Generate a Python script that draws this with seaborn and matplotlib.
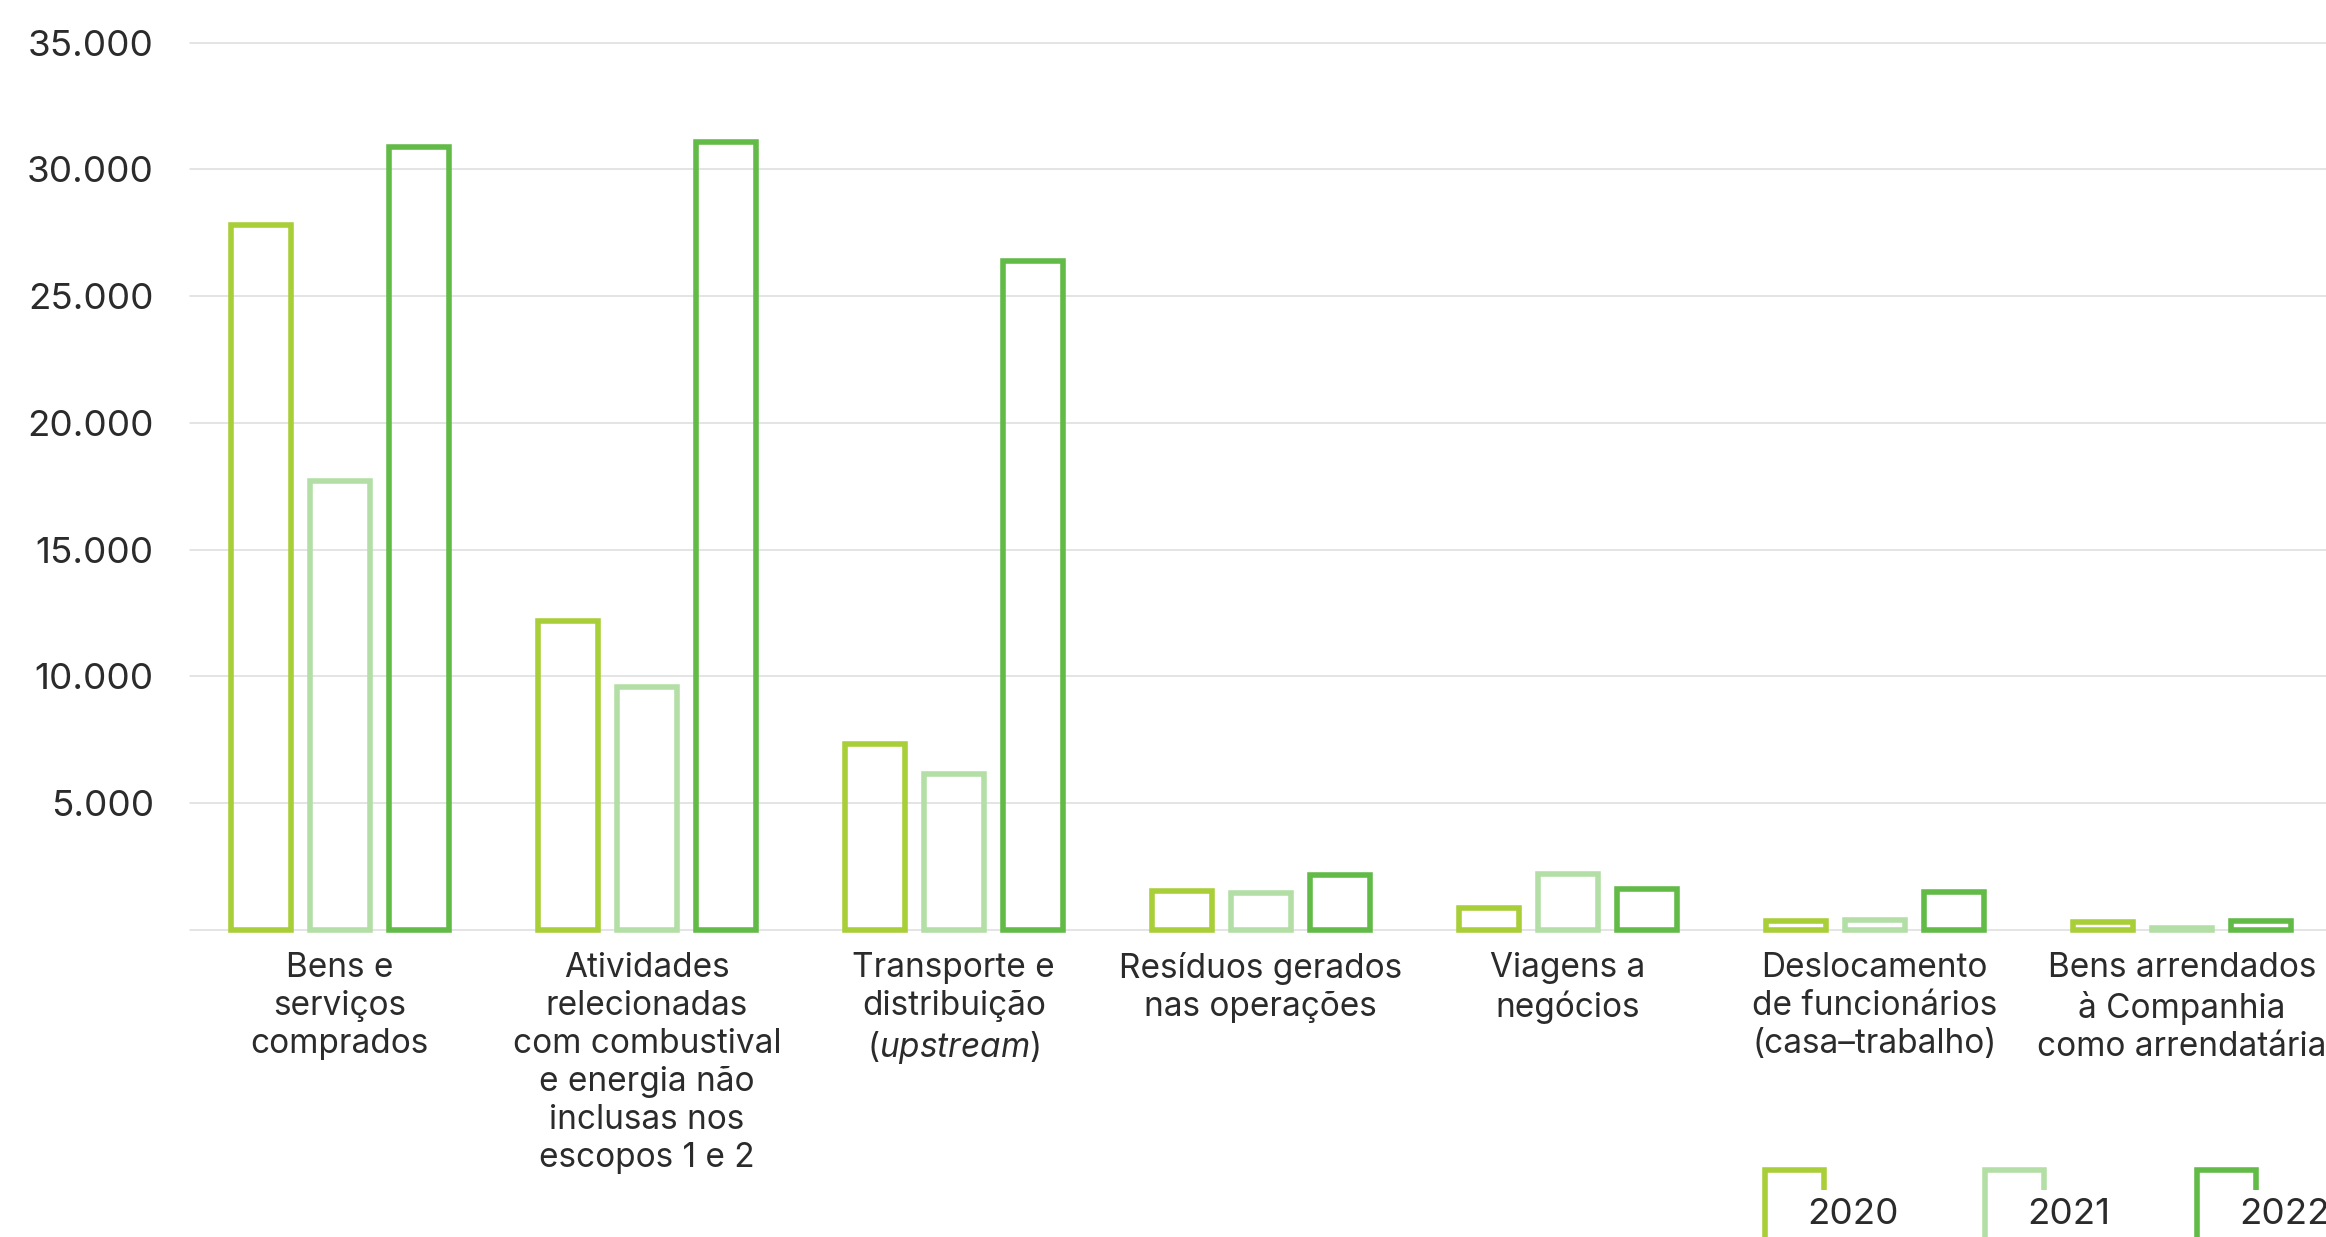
import numpy as np
import pandas as pd
import matplotlib
matplotlib.use("Agg")
import matplotlib.pyplot as plt
import seaborn as sns
from matplotlib import font_manager
from matplotlib.patches import Rectangle

# ---------------- data ----------------
categorias = [
    "Bens e\nserviços\ncomprados",
    "Atividades\nrelecionadas\ncom combustival\ne energia não\ninclusas nos\nescopos 1 e 2",
    "Transporte e\ndistribuição\n($\\mathit{upstream}$)",
    "Resíduos gerados\nnas operações",
    "Viagens a\nnegócios",
    "Deslocamento\nde funcionários\n(casa–trabalho)",
    "Bens arrendados\nà Companhia\ncomo arrendatária",
]
anos = ["2020", "2021", "2022"]
valores_2020 = [27800, 12200, 7350, 1550, 850, 350, 300]
valores_2021 = [17700, 9600, 6150, 1450, 2200, 400, 80]
valores_2022 = [30900, 31100, 26400, 2150, 1600, 1500, 350]
y_ticks = [0, 5000, 10000, 15000, 20000, 25000, 30000, 35000]
cores = ["#A8CE38", "#B3DFA6", "#62BA47"]

linhas = []
for ano, vals in zip(anos, [valores_2020, valores_2021, valores_2022]):
    for cat, v in zip(categorias, vals):
        linhas.append({"categoria": cat, "ano": ano, "valor": v})
df = pd.DataFrame(linhas)

# ---------------- style ----------------
sns.set_theme(style="white")
plt.rcParams["font.family"] = ["Inter", "DejaVu Sans"]
names_styles = {(f.name, f.style) for f in font_manager.fontManager.ttflist}
it_font = None
for fam in ["Inter", "Roboto", "Open Sans", "Lato", "DejaVu Sans"]:
    if (fam, "italic") in names_styles or (fam, "oblique") in names_styles:
        it_font = fam
        break
plt.rcParams["mathtext.fontset"] = "custom"
plt.rcParams["mathtext.rm"] = "Inter"
plt.rcParams["mathtext.it"] = f"{it_font}:italic" if it_font else "Inter:italic"

TXT = "#2B2B2B"
W, H = 2326, 1237
fig = plt.figure(figsize=(W / 100, H / 100), dpi=100)
ax = fig.add_axes([190 / W, (H - 930) / H, (W - 190) / W, (930 - 42.7) / H])

sns.barplot(
    data=df, x="categoria", y="valor", hue="ano", hue_order=anos,
    palette=cores, fill=False, linewidth=4.0, width=0.772, gap=0.244,
    errorbar=None, legend=False, ax=ax,
)
for p in ax.patches:
    p.set_clip_on(False)
    p.set_joinstyle("miter")

ax.set_ylim(0, 35000)
ax.set_xlim(-0.488, 6.47)
ax.set_yticks(y_ticks)
ax.set_yticklabels(["" if v == 0 else f"{v:,.0f}".replace(",", ".") for v in y_ticks])
ax.set_axisbelow(True)
ax.yaxis.grid(True, color="#DDDDDD", linewidth=1.1)
ax.xaxis.grid(False)
for gl in ax.get_ygridlines():
    gl.set_clip_on(False)
for s in ax.spines.values():
    s.set_visible(False)
ax.set_xlabel("")
ax.set_ylabel("")
ax.tick_params(axis="y", length=0, pad=26, labelsize=26.5, labelcolor=TXT)
ax.tick_params(axis="x", length=0, pad=16, labelsize=24, labelcolor=TXT)
for t in ax.get_xticklabels():
    t.set_linespacing(1.24)
    t.set_ha("center")

# ---------------- legend ----------------
handles = [Rectangle((0, 0), 1, 1, facecolor="none", edgecolor=c, linewidth=4.0) for c in cores]
leg = fig.legend(
    handles, anos, loc="upper left", bbox_to_anchor=(1765 / W, (H - 1170) / H),
    ncol=3, frameon=False, fontsize=26.5, handlelength=1.6, handleheight=3.3,
    handletextpad=-0.45, columnspacing=2.35, borderpad=0, borderaxespad=0,
)
for t in leg.get_texts():
    t.set_color(TXT)
    t.set_bbox(dict(facecolor="white", edgecolor="none", boxstyle="square,pad=0.22"))

fig.savefig("out.png", dpi=100)
